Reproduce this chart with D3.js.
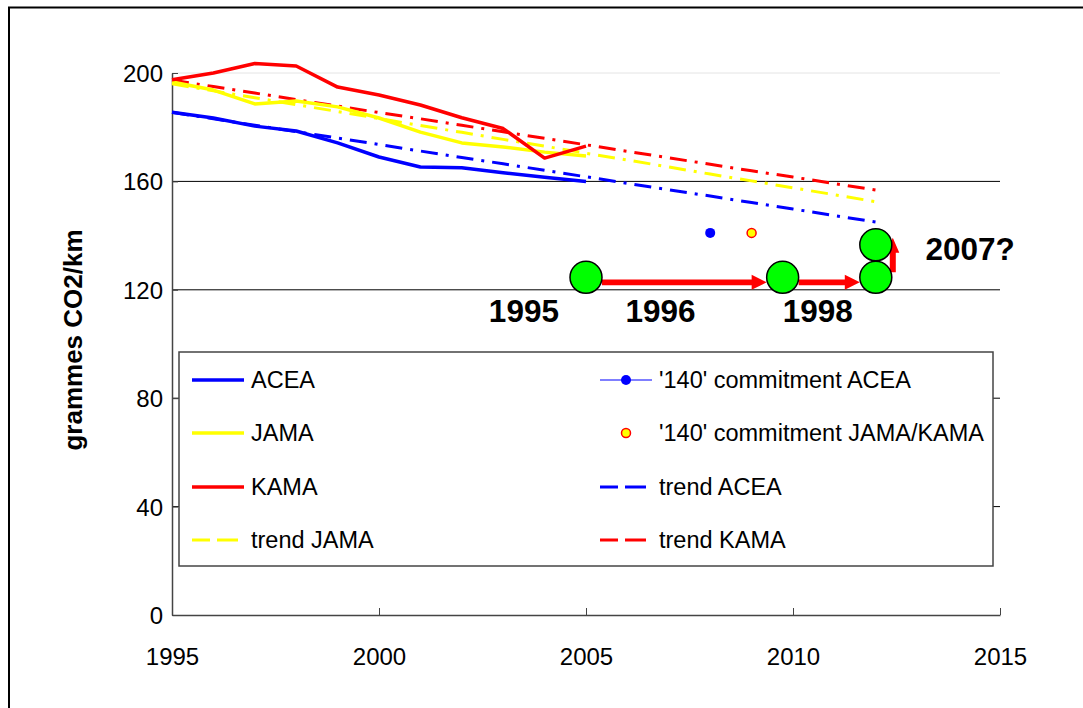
<!DOCTYPE html>
<html><head><meta charset="utf-8">
<script src="https://cdn.jsdelivr.net/npm/d3@7"></script>
<style>body{margin:0;background:#fff}svg{display:block}text{font-family:"Liberation Sans",Arial,sans-serif}</style>
</head><body>
<svg id="c" width="1083" height="708"></svg>
<script>
const years = [1995,1996,1997,1998,1999,2000,2001,2002,2003,2004,2005];
const acea  = [185.5,183.4,180.4,178.6,174.2,169.0,165.3,165.0,163.2,161.5,160.0];
const jama  = [196.7,193.7,188.6,189.7,187.5,183.4,178.2,174.2,172.7,170.8,169.4];
const kama  = [197.5,200.0,203.5,202.6,194.8,191.9,188.2,183.5,179.5,168.6,173.0];
const trendYears = [1995,1996,1997,1998,1999,2000,2001,2002,2003,2004,2005,2006,2007,2008,2009,2010,2011,2012];
const trendAcea = [185.5,183.1,180.7,178.4,176.0,173.6,171.2,168.8,166.5,164.1,161.7,159.3,156.9,154.6,152.2,149.8,147.4,145.0];
const trendJama = [196.0,193.4,190.9,188.3,185.8,183.2,180.6,178.1,175.5,173.0,170.4,167.9,165.3,162.7,160.2,157.6,155.1,152.5];
const trendKama = [197.4,195.0,192.6,190.2,187.8,185.4,183.1,180.7,178.3,175.9,173.5,171.1,168.7,166.3,163.9,161.6,159.2,156.8];
const commitAcea = {year:2008, value:141};
const commitJamaKama = {year:2009, value:141};
const milestoneYears = [2005, 2009.75, 2012, 2012];
const milestoneValues = [124.6, 124.6, 124.6, 136.6];
const milestoneLabels = ["1995","1996","1998","2007?"];
const milestoneLabelYears = [2003.5, 2006.8, 2010.6, 2013.2];
const milestoneLabelValues = [108.3, 108.3, 108.3, 131.0];
const xTicks = [1995,2000,2005,2010,2015];
const yTicks = [0,40,80,120,160,200];
const yTitle = "grammes CO2/km";

const svg = d3.select("#c");
const x = d3.scaleLinear().domain([1995,2015]).range([172,1000]);
const y = d3.scaleLinear().domain([0,200]).range([615,73]);

// outer frame
svg.append("rect").attr("x",9).attr("y",7.5).attr("width",1100).attr("height",720)
  .attr("fill","none").attr("stroke","#000").attr("stroke-width",2);

// gridlines
svg.append("g").selectAll("line").data(yTicks.filter(d=>d>0)).join("line")
  .attr("x1",x(1995)).attr("x2",x(2015)).attr("y1",d=>y(d)).attr("y2",d=>y(d))
  .attr("stroke",d=>d===200?"#e4e4e4":"#000").attr("stroke-width",1);

// axes
const ya = svg.append("g").attr("transform",`translate(${x(1995)},0)`)
  .call(d3.axisLeft(y).tickValues(yTicks).tickSizeInner(-6).tickSizeOuter(0).tickPadding(9));
const xa = svg.append("g").attr("transform",`translate(0,${y(0)})`)
  .call(d3.axisBottom(x).tickValues(xTicks).tickFormat(d3.format("d")).tickSizeInner(-7).tickSizeOuter(0).tickPadding(38));
[ya,xa].forEach(a=>{
  a.select(".domain").attr("stroke","#444").attr("stroke-width",1.5);
  a.selectAll(".tick line").attr("stroke","#444");
  a.selectAll("text").attr("font-size",24).attr("fill","#000").attr("font-family","Liberation Sans, Arial, sans-serif");
});
ya.selectAll("text").attr("dy","0.35em");
xa.selectAll("text").attr("dy","0.5em");

svg.append("text").attr("transform",`translate(82,340) rotate(-90)`)
  .attr("text-anchor","middle").attr("font-size",26).attr("font-weight","bold").text(yTitle);

// legend box
const lg = svg.append("g");
lg.append("rect").attr("x",179).attr("y",352).attr("width",814).attr("height",214)
  .attr("fill","#fff").attr("stroke","#444").attr("stroke-width",1.5);

// lines
const line = (xs,ys)=>d3.line().x((d,i)=>x(xs[i])).y(d=>y(d))(ys);
const dash = "17,8,3,8";
const series = [
  {vals:trendAcea, xs:trendYears, color:"#0000ff", w:3, dash},
  {vals:trendJama, xs:trendYears, color:"#ffff00", w:3, dash},
  {vals:trendKama, xs:trendYears, color:"#ff0000", w:3, dash},
  {vals:acea, xs:years, color:"#0000ff", w:3.5},
  {vals:jama, xs:years, color:"#ffff00", w:3.5},
  {vals:kama, xs:years, color:"#ff0000", w:3.5},
];
series.forEach(s=>{
  svg.append("path").attr("d",line(s.xs,s.vals)).attr("fill","none")
    .attr("stroke",s.color).attr("stroke-width",s.w).attr("stroke-linejoin","round")
    .attr("stroke-dasharray",s.dash||null);
});

// commitment points
svg.append("circle").attr("cx",x(commitAcea.year)).attr("cy",y(commitAcea.value)).attr("r",5).attr("fill","#0000ff");
svg.append("circle").attr("cx",x(commitJamaKama.year)).attr("cy",y(commitJamaKama.value)).attr("r",4.5)
  .attr("fill","#ffff00").attr("stroke","#ff0000").attr("stroke-width",1.5);

// milestone arrows
const R = 16;
const cx = milestoneYears.map(v=>x(v)), cy = milestoneValues.map(v=>y(v));
function hArrow(x0,x1,yy){
  const hw=2.8, hh=7.5, hl=15;
  return `M${x0},${yy-hw}L${x1-hl},${yy-hw}L${x1-hl},${yy-hh}L${x1},${yy}L${x1-hl},${yy+hh}L${x1-hl},${yy+hw}L${x0},${yy+hw}Z`;
}
function vArrow(xx,y0,y1){
  const hw=3, hh=6.5, hl=15;
  return `M${xx-hw},${y0}L${xx-hw},${y1+hl}L${xx-hh},${y1+hl}L${xx},${y1}L${xx+hh},${y1+hl}L${xx+hw},${y1+hl}L${xx+hw},${y0}Z`;
}
svg.append("path").attr("d",hArrow(cx[0]+R,cx[1]-R,cy[0]+5)).attr("fill","#ff0000");
svg.append("path").attr("d",hArrow(cx[1]+R,cx[2]-R,cy[1]+5)).attr("fill","#ff0000");
svg.append("path").attr("d",vArrow(cx[2]+R+1,cy[2]-5,cy[3]-7)).attr("fill","#ff0000");

svg.append("g").selectAll("circle").data(milestoneYears).join("circle")
  .attr("cx",(d,i)=>cx[i]).attr("cy",(d,i)=>cy[i]).attr("r",R)
  .attr("fill","#00ff00").attr("stroke","#000").attr("stroke-width",1.5);

svg.append("g").selectAll("text").data(milestoneLabels).join("text")
  .attr("x",(d,i)=>x(milestoneLabelYears[i])).attr("y",(d,i)=>y(milestoneLabelValues[i]))
  .attr("text-anchor",(d,i)=>i===3?"start":"middle")
  .attr("font-size",31.5).attr("font-weight","bold").text(d=>d);

// legend entries
const legendItems = [
  {label:"ACEA", col:0, row:0, type:"solid", color:"#0000ff"},
  {label:"JAMA", col:0, row:1, type:"solid", color:"#ffff00"},
  {label:"KAMA", col:0, row:2, type:"solid", color:"#ff0000"},
  {label:"trend JAMA", col:0, row:3, type:"dash", color:"#ffff00"},
  {label:"'140' commitment ACEA", col:1, row:0, type:"dotline", color:"#0000ff"},
  {label:"'140' commitment JAMA/KAMA", col:1, row:1, type:"dot2", color:"#ffff00"},
  {label:"trend ACEA", col:1, row:2, type:"dash", color:"#0000ff"},
  {label:"trend KAMA", col:1, row:3, type:"dash", color:"#ff0000"},
];
const colX = [192, 600], rowY = [380, 433, 487, 540];
legendItems.forEach(it=>{
  const x0 = colX[it.col], yy = rowY[it.row], x1 = x0+52;
  if(it.type==="solid") lg.append("line").attr("x1",x0).attr("x2",x1).attr("y1",yy).attr("y2",yy).attr("stroke",it.color).attr("stroke-width",3.5);
  if(it.type==="dash") lg.append("line").attr("x1",x0).attr("x2",x1-6).attr("y1",yy).attr("y2",yy).attr("stroke",it.color).attr("stroke-width",3).attr("stroke-dasharray","18,7,3,0");
  if(it.type==="dotline"){
    lg.append("line").attr("x1",x0).attr("x2",x1).attr("y1",yy).attr("y2",yy).attr("stroke",it.color).attr("stroke-width",1.2);
    lg.append("circle").attr("cx",(x0+x1)/2).attr("cy",yy).attr("r",5).attr("fill",it.color);
  }
  if(it.type==="dot2") lg.append("circle").attr("cx",(x0+x1)/2).attr("cy",yy).attr("r",4.5).attr("fill","#ffff00").attr("stroke","#ff0000").attr("stroke-width",1.5);
  lg.append("text").attr("x",x1+7).attr("y",yy).attr("dy","0.36em").attr("font-size",23.5).text(it.label);
});
</script>
</body></html>
